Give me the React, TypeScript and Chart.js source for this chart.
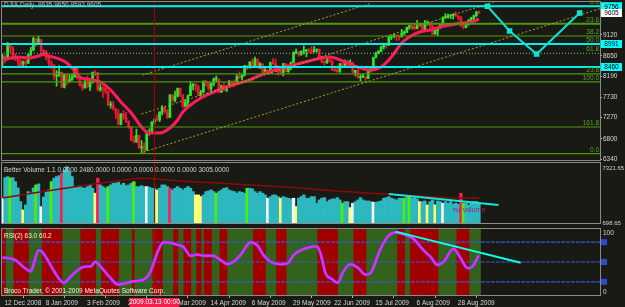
import { useEffect, useRef } from 'react';
import { Chart, registerables } from 'chart.js';
Chart.register(...registerables);

const FONT = '"Liberation Sans", Arial, sans-serif';
const BG = '#1a1a15';
const XMIN = -0.58;
const XMAX = 232.0;

const xTickBars = [0, 16, 32, 48, 64, 80, 96, 112, 128, 144, 160, 176];
const xTickLabels = ['12 Dec 2008', '8 Jan 2009', '3 Feb 2009', '26 Feb 2009', '20 Mar 2009', '14 Apr 2009', '6 May 2009', '29 May 2009', '22 Jun 2009', '15 Jul 2009', '6 Aug 2009', '28 Aug 2009'];
const priceTicks = [6340, 6800, 7270, 7730, 8190, 8650, 9120];

const open = [
  8565, 8630, 8565, 8924, 8824, 8605, 8579, 8520, 8468, 8516, 8484, 8668,
  8776, 9035, 8953, 9015, 8770, 8742, 8599, 8474, 8449, 8200, 8212, 8281, 7949, 8228, 8077, 8116, 8175, 8375, 8149,
  8001, 7937, 8078, 7957, 8063, 8281, 8271, 7889, 7940, 7933, 7850, 7553, 7556, 7466, 7366, 7115, 7351, 7271, 7182,
  7063, 6763, 6726, 6876, 6594, 6627, 6547, 6926, 6930, 7170, 7224, 7217, 7396, 7487, 7401, 7278, 7776, 7660, 7750, 7925, 7776, 7522,
  7609, 7762, 7978, 8018, 7976, 7790, 7837, 8083, 8058, 7920, 8030, 8125, 8131, 7842, 7970, 7887, 7957, 8076, 8025, 8017, 8186,
  8168, 8212, 8427, 8411, 8512, 8410, 8575, 8419, 8469, 8285, 8331, 8269, 8504, 8475, 8422, 8292, 8277, 8473, 8300, 8404,
  8500, 8721, 8741, 8675, 8750, 8763, 8764, 8763, 8739, 8771, 8799, 8612, 8505, 8497, 8556, 8540, 8339, 8323, 8300, 8472, 8438, 8529,
  8447, 8504, 8281, 8325, 8164, 8178, 8183, 8147, 8332, 8359, 8616, 8712, 8744, 8848, 8916, 8881, 9069, 9093, 9109, 9097, 9071, 9154,
  9172, 9287, 9320, 9281, 9256, 9370, 9338, 9241, 9362, 9398, 9321, 9135, 9218, 9279, 9350, 9506, 9509, 9539, 9544, 9581, 9544,
  9496, 9311, 9281, 9345, 9441, 9497, 9547, 9635,
];
const high = [
  8690, 8660, 8950, 8930, 8860, 8700, 8600, 8570, 8540, 8550, 8690, 8840,
  9065, 9040, 9088, 9015, 8790, 8770, 8620, 8540, 8450, 8320, 8430, 8290, 8240, 8230, 8230, 8250, 8400, 8380, 8160,
  8030, 8100, 8200, 8100, 8290, 8320, 8280, 8010, 7960, 7940, 7860, 7630, 7630, 7480, 7450, 7360, 7420, 7390, 7200,
  7070, 6860, 7010, 6880, 6760, 6710, 6930, 7020, 7180, 7260, 7330, 7400, 7540, 7520, 7450, 7780, 7790, 7860, 7930, 7930, 7780, 7680,
  7780, 8080, 8030, 8020, 7980, 7880, 8090, 8100, 8060, 8040, 8160, 8200, 8135, 8000, 8060, 7980, 8100, 8090, 8110, 8230, 8290,
  8240, 8440, 8430, 8520, 8580, 8620, 8580, 8500, 8470, 8390, 8340, 8510, 8590, 8580, 8430, 8340, 8480, 8480, 8440, 8510,
  8740, 8800, 8745, 8760, 8870, 8790, 8810, 8860, 8860, 8800, 8800, 8640, 8530, 8600, 8610, 8545, 8390, 8410, 8480, 8480, 8560, 8550,
  8560, 8505, 8330, 8340, 8230, 8250, 8190, 8340, 8380, 8620, 8730, 8770, 8860, 8930, 8930, 9090, 9100, 9130, 9110, 9100, 9240, 9200,
  9290, 9330, 9330, 9330, 9440, 9380, 9340, 9440, 9430, 9400, 9320, 9230, 9290, 9370, 9520, 9590, 9580, 9570, 9590, 9630, 9545,
  9530, 9350, 9360, 9460, 9510, 9560, 9640, 9650,
];
const low = [
  8420, 8490, 8560, 8730, 8560, 8540, 8420, 8390, 8430, 8390, 8480, 8660,
  8760, 8860, 8940, 8730, 8650, 8560, 8420, 8370, 8120, 7970, 8190, 7940, 7930, 8000, 8050, 8100, 8170, 8130, 7970,
  7880, 7920, 7940, 7870, 8040, 8210, 7860, 7860, 7720, 7810, 7530, 7480, 7440, 7250, 7110, 7110, 7230, 7160, 7030,
  6760, 6710, 6720, 6580, 6470, 6470, 6540, 6880, 6920, 7110, 7200, 7180, 7330, 7370, 7250, 7270, 7630, 7620, 7730, 7740, 7490, 7510,
  7520, 7760, 7890, 7860, 7760, 7720, 7830, 7970, 7880, 7830, 7980, 8070, 7820, 7830, 7870, 7850, 7950, 7950, 7960, 8010, 8140,
  8110, 8200, 8340, 8370, 8380, 8400, 8380, 8360, 8250, 8270, 8230, 8260, 8460, 8400, 8220, 8230, 8200, 8290, 8280, 8340,
  8500, 8690, 8640, 8660, 8690, 8630, 8720, 8700, 8730, 8730, 8590, 8490, 8440, 8480, 8510, 8320, 8300, 8280, 8280, 8400, 8430, 8420,
  8440, 8270, 8200, 8150, 8090, 8160, 8100, 8140, 8290, 8360, 8600, 8690, 8740, 8800, 8820, 8880, 9010, 9050, 8990, 9000, 9070, 9120,
  9170, 9250, 9240, 9230, 9250, 9290, 9210, 9230, 9330, 9260, 9120, 9130, 9100, 9260, 9340, 9480, 9490, 9480, 9470, 9520, 9450,
  9300, 9250, 9270, 9330, 9440, 9450, 9520, 9592,
];
const close = [
  8630, 8565, 8924, 8824, 8605, 8579, 8520, 8419, 8516, 8484, 8668, 8776,
  9035, 8953, 9015, 8770, 8742, 8599, 8474, 8449, 8200, 8212, 8281, 7949, 8228, 8123, 8116, 8175, 8375, 8149, 8001,
  7937, 8078, 7957, 8063, 8281, 8271, 7889, 7940, 7933, 7850, 7553, 7556, 7466, 7366, 7115, 7351, 7271, 7182, 7063,
  6763, 6726, 6876, 6594, 6627, 6547, 6926, 6930, 7170, 7224, 7217, 7396, 7487, 7401, 7278, 7776, 7660, 7750, 7925, 7776, 7522, 7609,
  7762, 7978, 8018, 7976, 7790, 7837, 8083, 8058, 7920, 8030, 8125, 8131, 7842, 7970, 7887, 7957, 8076, 8025, 8017, 8186, 8168,
  8212, 8427, 8411, 8512, 8410, 8575, 8419, 8469, 8285, 8331, 8269, 8504, 8475, 8422, 8292, 8277, 8473, 8300, 8404, 8500,
  8721, 8741, 8675, 8750, 8763, 8764, 8763, 8739, 8771, 8799, 8612, 8505, 8497, 8556, 8540, 8339, 8323, 8300, 8472, 8438, 8529, 8447,
  8504, 8281, 8325, 8164, 8178, 8183, 8147, 8332, 8359, 8616, 8712, 8744, 8848, 8916, 8881, 9069, 9093, 9109, 9097, 9071, 9154, 9172,
  9287, 9320, 9281, 9256, 9370, 9338, 9241, 9362, 9398, 9321, 9135, 9218, 9279, 9350, 9506, 9509, 9539, 9544, 9581, 9544, 9496,
  9311, 9281, 9345, 9441, 9497, 9547, 9627, 9605,
];

const maBars = [0, 6, 10, 14, 16, 18, 22, 25, 27, 30, 34, 38, 42, 46, 50, 54, 57, 61, 65, 68, 70, 73, 77, 82, 87, 92, 96, 100, 108, 116, 124, 127, 133, 139, 143, 147, 151, 155, 158, 162, 166, 170, 174, 178, 182, 185];
const maValues = [8556, 8623, 8601, 8645, 8690, 8645, 8579, 8489, 8378, 8177, 8120, 8065, 7887, 7619, 7374, 7062, 6927, 6927, 7039, 7217, 7396, 7552, 7708, 7842, 7954, 8043, 8110, 8221, 8378, 8489, 8601, 8623, 8511, 8378, 8333, 8400, 8623, 8935, 9069, 9181, 9225, 9292, 9337, 9381, 9404, 9471];

const fibPrices = [9756, 9363, 9092, 8913, 8706, 8247, 8068, 7061, 6469];
const fibLabels = ['0.0', '23.6', '38.2', '50.0', '61.8', '23.6', '100.0', '161.8', '0.0'];
const cyanPrices = [9756, 8913, 8400];
const cyanLabels = ['9756', '8991', '8460'];
const lastPriceLabel = '9605';

const chanA = { bars: [54.4, 142.9], prices: [8221, 9818] };
const chanB = { bars: [54.0, 190.7], prices: [7351, 9849] };
const chanC = { bars: [54.8, 232.2], prices: [6503, 9705] };
const zigBars = [188.3, 196.9, 207.4, 224.1];
const zigPrices = [9756, 9203, 8689, 9604];

const crossBar = 59;
const crossLabel = '2009.03.13 00:00';
const headerText = 'DJIA,Daily  9635 9650 9592 9605';

const volume = [
  3459, 5700, 5811, 5667, 5700, 5259, 4563, 3051, 2134, 2686,
  4155, 4011, 4563, 4894, 5005, 2499, 3569, 4155, 4342, 5259,
  5634, 5811, 5921, 6186, 6550, 6915, 6363, 5811, 4707, 4707,
  4817, 4596, 4530, 4707, 4894, 4530, 3978, 5634, 4894, 4707,
  4530, 4707, 4894, 5082, 5082, 5192, 4894, 5082, 4817, 4894,
  5082, 5259, 4707, 4707, 4817, 4707, 4707, 4640, 4530, 4530,
  4342, 4530, 4894, 4894, 4707, 4530, 4342, 4530, 4707, 4530,
  4342, 4530, 4707, 4530, 4155, 3790, 3790, 3603, 3790, 4155,
  4232, 4342, 4155, 3978, 4155, 4342, 4530, 4596, 4342, 4232,
  4155, 3978, 4155, 4080, 3978, 4530, 4530, 4453, 4155, 3978,
  4155, 3978, 3790, 3426, 3603, 3790, 3790, 3603, 3426, 3603,
  3492, 3426, 3349, 3426, 2499, 3426, 3603, 3790, 3426, 3426,
  3603, 3603, 2874, 3238, 3426, 3492, 3051, 3238, 3349, 3349,
  3492, 3238, 2874, 3051, 3051, 2388, 2874, 3051, 3238, 3492,
  3238, 3128, 3128, 3051, 2984, 2984, 3051, 3128, 3426, 3492,
  3603, 3426, 3349, 3238, 3426, 3426, 3426, 3603, 3603, 3426,
  3492, 3349, 3051, 3051, 3128, 2686, 3051, 3238, 2686, 3128,
  3051, 2874, 3051, 2874, 3051, 2763, 2874, 2763, 3978, 2874,
  2874, 2686, 2874, 3051, 3051, 2874,
];
const volCodes =
  'wccgccccyc' + 'cccgcwcccg' + 'cccrcccccc' + 'ccccccyrcc' + 'cgcccccccc' + 'cgccccwccc' +
  'yccccrcccc' + 'cccccyyycc' + 'cccgcccccc' + 'cccccgcccc' + 'cccwccccyc' + 'cccwyccccc' +
  'cccccccccc' + 'ccgccywccc' + 'ccccwccccc' + 'ccccccgcgc' + 'ccyccyccyc' + 'cwccccccrg' + 'cccccc';
const volMaBars = [0, 12, 25, 38, 54, 60, 69, 90, 116, 129, 142, 155, 174, 185];
const volMaValues = [3459, 4011, 4563, 5115, 5667, 5557, 5336, 5004, 4563, 4232, 4011, 3790, 3459, 3459];
const volTrend = { bars: [150, 192.6], values: [3900, 2686] };
const volMin = 698.65;
const volMax = 7321.65;
const volLabel = 'Better Volume 1.1 0.0000 2480.0000 0.0000 0.0000 0.0000 0.0000 3005.0000';

const rsiBars = [0, 3, 5, 8, 11, 12, 14, 15.5, 18.6, 21.7, 23.7, 27.2, 30.3, 33, 34.2, 36.1, 38.1, 41.9, 44.7, 47, 50.9, 54.8, 57.5, 60.2, 62.5, 65.2, 68, 70.3, 73, 75.7, 78.1, 81.9, 84.7, 87.4, 89.7, 92.4, 96.3, 99, 101.4, 104.1, 108, 110.7, 113, 115.7, 119.6, 122, 123.5, 125.4, 128.2, 130.1, 132.4, 135.1, 137.9, 141, 142.9, 146.8, 149.9, 152.6, 155.7, 159.6, 163.5, 166.2, 168.9, 171.3, 175.1, 177.9, 180.6, 182.5, 184.9];
const rsiValues = [56.5, 55.5, 53, 43, 35.7, 45.6, 67.7, 65, 45.6, 26, 18.5, 30.8, 40.7, 43, 43, 50.4, 43, 26, 16, 17, 20.9, 23.4, 35.7, 65, 80, 79, 76, 72.6, 59.3, 61.4, 59.3, 59.3, 53, 46.6, 50.4, 60.3, 80, 75, 60.3, 50.4, 46.6, 48, 60.3, 67.7, 72.6, 74, 63, 33.3, 23.4, 18.5, 35.7, 46.6, 41.6, 30.8, 33.3, 70, 89.9, 94.8, 92.4, 85, 67.7, 57.8, 45.6, 50.4, 70, 55.5, 40.7, 43, 60.3];
const rsiLevels = [80, 50, 20];
const rsiTrend = { bars: [152.6, 201.2], values: [96, 49] };
const bandCodes =
  'rrgggrrrrr' + 'rgggggrrrr' + 'rrrrgggggg' + 'grrrrrrggr' + 'rrrrrrgggg' + 'grgggggggr' +
  'rrrggggrrg' + 'grrrggrrgr' + 'rrgggrrrgg' + 'ggggggggrr' + 'rrrggggrrr' + 'rggggggggg' +
  'gggrrrrrrr' + 'rggggggrrr' + 'rrgggggggg' + 'ggggrrrggr' + 'rrrrrrrrrr' + 'gggggggrrr' + 'rrgggg';
const rsiLabel = 'RSI(2) 63.0 60.2';
const copyright = 'Broco Trader, \u00a9 2001-2009 MetaQuotes Software Corp.';

const idx = close.map((_, i) => i);
const UP = '#2be82b';
const DN = '#ee1832';
const volColors: Record<string, string> = { c: '#2cb8be', g: '#4cf000', y: '#ffff78', w: '#f6f6f6', r: '#ff1a5a' };
const bandColors: Record<string, string> = { g: '#33631a', r: '#a00000' };

const hline = (p: number, color: string, width: number, order: number, dash: number[] = []) => ({
  type: 'line', data: [{ x: XMIN, y: p }, { x: XMAX, y: p }], borderColor: color, borderWidth: width,
  borderDash: dash, pointRadius: 0, order,
});
const seg = (xs: number[], ys: number[], color: string, width: number, order: number, dash: number[] = []) => ({
  type: 'line', data: xs.map((b, i) => ({ x: b, y: ys[i] })), borderColor: color, borderWidth: width,
  borderDash: dash, pointRadius: 0, order,
});
const hiddenX = { type: 'linear', min: XMIN, max: XMAX, display: false, offset: false };
const common = (padding: any) => ({
  responsive: false, animation: false, events: [], layout: { padding, autoPadding: false },
  plugins: { legend: { display: false }, tooltip: { enabled: false } },
});
const f = (s: number) => `${s}px ${FONT}`;
const noPad = (s: any) => { s.paddingTop = 0; s.paddingBottom = 0; s.paddingLeft = 0; s.paddingRight = 0; };

function framePlugin(id: string, extra: (chart: any) => void) {
  return {
    id,
    afterDraw(chart: any) {
      const { ctx, chartArea: a } = chart;
      ctx.save();
      ctx.strokeStyle = '#8a8a8a';
      ctx.lineWidth = 1;
      ctx.strokeRect(Math.floor(a.left) + 0.5, Math.floor(a.top) - 0.5, Math.round(a.right - a.left), Math.round(a.bottom - a.top) + 1);
      extra(chart);
      ctx.restore();
    },
  };
}

function priceConfig(): any {
  const bull = idx.map((i) => close[i] >= open[i]);
  const cols = idx.map((i) => (bull[i] ? UP : DN));
  return {
    type: 'bar',
    data: {
      datasets: [
        { type: 'bar', data: idx.map((i) => ({ x: i, y: [low[i], high[i]] })), backgroundColor: cols, barThickness: 1, grouped: false, order: 60 },
        { type: 'bar', data: idx.map((i) => ({ x: i, y: [Math.min(open[i], close[i]), Math.max(open[i], close[i])] })), backgroundColor: cols, barThickness: 2, minBarLength: 1, grouped: false, order: 55 },
        { ...seg(maBars, maValues, '#ff1a58', 3, 50), tension: 0.4, cubicInterpolationMode: 'monotone' },
        ...fibPrices.map((p, i) => hline(p, i === 4 ? '#6a9a88' : '#4e9812', i === 1 ? 2 : 1.2, 40, i === 4 ? [1, 2] : [])),
        seg(chanA.bars, chanA.prices, '#a8a428', 1, 35, [2, 2]),
        seg(chanB.bars, chanB.prices, '#a8a428', 1, 35, [2, 2]),
        seg(chanC.bars, chanC.prices, '#a8a428', 1, 35, [2, 2]),
        seg([crossBar, crossBar], [6000, 10000], '#b00000', 1, 30),
        ...cyanPrices.map((p) => hline(p, '#00eeee', 2, 20)),
        { ...seg(zigBars, zigPrices, '#14e0d0', 2, 10), pointStyle: 'rect', pointRadius: 2.5, pointBackgroundColor: '#14e0d0', pointBorderColor: '#14e0d0' },
      ],
    },
    options: {
      ...common({ left: 1, top: 2, right: 0, bottom: 1 }),
      scales: {
        x: hiddenX,
        y: {
          type: 'linear', position: 'right', min: 6325, max: 9850,
          afterBuildTicks: (s: any) => { s.ticks = priceTicks.map((v) => ({ value: v })); },
          afterFit: (s: any) => { s.width = 25; noPad(s); },
          ticks: { color: '#d6d6d6', font: { family: FONT, size: 6.5 }, padding: 1, callback: (v: any) => String(v) },
          grid: { display: true, drawOnChartArea: false, drawTicks: true, tickLength: 2, color: '#bbbbbb' },
          border: { display: true, color: '#8a8a8a' },
        },
      },
    },
    plugins: [framePlugin('priceDecor', (chart: any) => {
      const { ctx, chartArea: a, scales } = chart;
      const y = scales.y;
      ctx.font = f(6.5);
      ctx.textBaseline = 'middle';
      ctx.textAlign = 'left';
      ctx.fillStyle = '#bdbdbd';
      ctx.fillText(headerText, a.left + 3, 5);
      ctx.textAlign = 'right';
      ctx.textBaseline = 'bottom';
      ctx.fillStyle = '#5aa41a';
      fibPrices.forEach((p, i) => ctx.fillText(fibLabels[i], a.right - 1, y.getPixelForValue(p) - 0.5));
      const box = (p: number, text: string, bg: string) => {
        const yy = y.getPixelForValue(p);
        ctx.fillStyle = bg;
        ctx.fillRect(a.right + 1, yy - 4, 21, 8);
        ctx.fillStyle = '#000000';
        ctx.textAlign = 'center';
        ctx.textBaseline = 'middle';
        ctx.fillText(text, a.right + 11.5, yy + 0.5);
      };
      cyanPrices.forEach((p, i) => box(p, cyanLabels[i], '#00ffff'));
      box(close[close.length - 1], lastPriceLabel, '#ffffff');
    })],
  };
}

function volConfig(): any {
  return {
    type: 'bar',
    data: {
      datasets: [
        { type: 'bar', data: idx.map((i) => ({ x: i, y: volume[i] })), backgroundColor: idx.map((i) => volColors[volCodes[i]]), barPercentage: 1, categoryPercentage: 1, inflateAmount: 0.4, order: 10 },
        seg(volMaBars, volMaValues, '#8a0a0a', 1.5, 5),
        seg(volTrend.bars, volTrend.values, '#10e8e0', 2, 2),
        seg([crossBar, crossBar], [0, 9000], '#b00000', 1, 1),
      ],
    },
    options: {
      ...common({ left: 1, top: 2, right: 25, bottom: 3 }),
      scales: { x: hiddenX, y: { type: 'linear', min: volMin, max: volMax, display: false } },
    },
    plugins: [framePlugin('volDecor', (chart: any) => {
      const { ctx, chartArea: a } = chart;
      ctx.font = f(6.5);
      ctx.textBaseline = 'middle';
      ctx.textAlign = 'left';
      ctx.fillStyle = '#d2d2d2';
      ctx.fillText(volLabel, a.left + 3, a.top + 7);
      ctx.font = f(6);
      ctx.fillText(volMax.toFixed(2), a.right + 2.5, a.top + 5);
      ctx.fillText(volMin.toFixed(2), a.right + 2.5, a.bottom);
      ctx.fillStyle = '#a0207a';
      ctx.font = f(7);
      ctx.fillText('no volume', a.left + 452, a.bottom - 13);
    })],
  };
}

function rsiConfig(): any {
  return {
    type: 'bar',
    data: {
      datasets: [
        { type: 'bar', data: idx.map((i) => ({ x: i, y: 100 })), backgroundColor: idx.map((i) => bandColors[bandCodes[i]]), barPercentage: 1, categoryPercentage: 1, inflateAmount: 0.6, order: 100 },
        ...rsiLevels.map((l) => ({ ...hline(l, '#3658d8', 1.2, 50, [4, 1]) })),
        seg([crossBar, crossBar], [0, 100], '#c00000', 1, 45),
        { ...seg(rsiBars, rsiValues, '#3a5cff', 3, 30), tension: 0.35, cubicInterpolationMode: 'monotone' },
        { ...seg(rsiBars, rsiValues, '#ff20f8', 2, 25), tension: 0.35, cubicInterpolationMode: 'monotone' },
        seg(rsiTrend.bars, rsiTrend.values, '#10ffe8', 2, 5),
      ],
    },
    options: {
      ...common({ left: 1, top: 3, right: 25, bottom: 0 }),
      scales: {
        x: {
          type: 'linear', min: XMIN, max: XMAX, offset: false, position: 'bottom',
          afterBuildTicks: (s: any) => { s.ticks = xTickBars.map((v) => ({ value: v })); },
          afterFit: (s: any) => { s.height = 12; noPad(s); },
          ticks: {
            color: '#d6d6d6', font: { family: FONT, size: 6.5 }, padding: 1, align: 'start', labelOffset: 2,
            autoSkip: false, maxRotation: 0, minRotation: 0,
            callback: (v: any) => xTickLabels[xTickBars.indexOf(v)] ?? '',
          },
          grid: { display: true, drawOnChartArea: false, drawTicks: true, tickLength: 3, color: '#aaaaaa' },
          border: { display: true, color: '#8a8a8a' },
        },
        y: { type: 'linear', min: 0, max: 100, display: false },
      },
    },
    plugins: [framePlugin('rsiDecor', (chart: any) => {
      const { ctx, chartArea: a, scales } = chart;
      const y = scales.y;
      const x = scales.x;
      ctx.font = f(6.5);
      ctx.textBaseline = 'middle';
      ctx.textAlign = 'left';
      ctx.fillStyle = '#f0f0f0';
      ctx.fillText(rsiLabel, a.left + 3, a.top + 7);
      ctx.fillText(copyright, a.left + 3, a.bottom - 3.5);
      ctx.fillStyle = '#d6d6d6';
      ctx.fillText('100', a.right + 3, a.top + 4);
      ctx.fillText('0', a.right + 3, a.bottom - 3);
      ctx.fillStyle = '#2a4ad0';
      rsiLevels.forEach((l) => ctx.fillRect(a.right + 1, y.getPixelForValue(l) - 3, 6, 6));
      const cx = x.getPixelForValue(crossBar);
      ctx.fillStyle = '#f2204c';
      ctx.fillRect(cx - 25, a.bottom + 3, 50, 9);
      ctx.fillStyle = '#ffffff';
      ctx.textAlign = 'center';
      ctx.fillText(crossLabel, cx, a.bottom + 7.5);
    })],
  };
}

export default function App() {
  const r1 = useRef<HTMLCanvasElement>(null);
  const r2 = useRef<HTMLCanvasElement>(null);
  const r3 = useRef<HTMLCanvasElement>(null);
  useEffect(() => {
    document.body.style.margin = '0';
    document.body.style.background = BG;
    const c1 = new Chart(r1.current as HTMLCanvasElement, priceConfig());
    const c2 = new Chart(r2.current as HTMLCanvasElement, volConfig());
    const c3 = new Chart(r3.current as HTMLCanvasElement, rsiConfig());
    return () => { c1.destroy(); c2.destroy(); c3.destroy(); };
  }, []);
  return (
    <div style={{ position: 'relative', width: 625, height: 307, background: BG, overflow: 'hidden' }}>
      <canvas ref={r1} width={625} height={161} style={{ position: 'absolute', left: 0, top: 0 }} />
      <canvas ref={r2} width={625} height={65} style={{ position: 'absolute', left: 0, top: 161 }} />
      <canvas ref={r3} width={625} height={81} style={{ position: 'absolute', left: 0, top: 226 }} />
    </div>
  );
}
